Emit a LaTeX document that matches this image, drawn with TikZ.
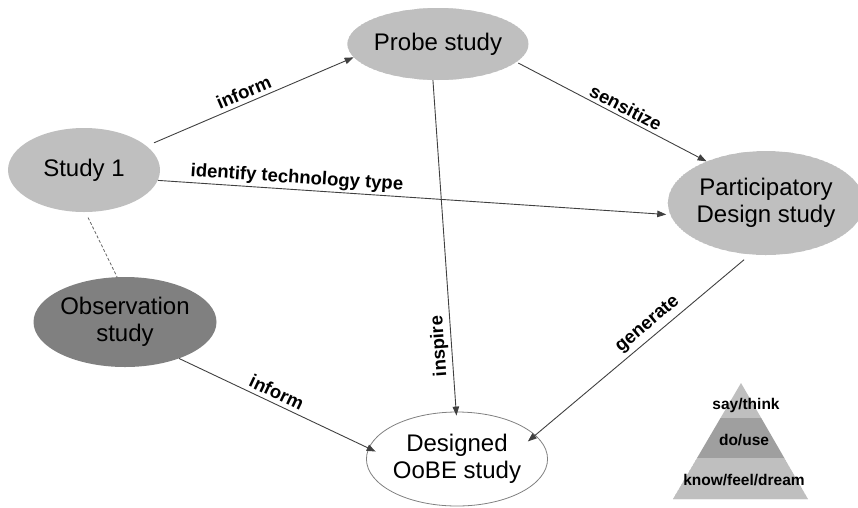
\documentclass[tikz,border=0pt]{standalone}
\usepackage{fontspec}
\setmainfont{Liberation Sans}
\usepackage{tikz}
\usetikzlibrary{shapes.geometric,arrows.meta,patterns.meta,calc}

\tikzset{
  study/.style={ellipse, inner sep=0pt, align=center, font=\fontsize{24}{27}\selectfont},
  dither/.style={fill=gray!35, postaction={pattern={Dots[distance=2pt,radius=0.6pt]}, pattern color=gray}},
  flow/.style={draw=black!75, line width=0.9pt, -{Triangle[length=9pt,width=6.5pt]}},
  lbl/.style={font=\bfseries\fontsize{18.5}{20}\selectfont, sloped, above, inner sep=4pt},
  pyrtext/.style={font=\bfseries\fontsize{15.5}{17}\selectfont, inner sep=0pt},
}

\begin{document}
\begin{tikzpicture}[x=1pt,y=-1pt]
\useasboundingbox (0,0) rectangle (858,507);

% studies
\node[study, fill=gray!50, minimum width=152pt, minimum height=84pt] (study1) at (84,170) {Study 1};
\node[study, fill=gray, minimum width=160pt, minimum height=90pt] (obs) at (125,322) {Observation\\study};
\node[study, dither, minimum width=178pt, minimum height=72pt] (probe) at (438,44) {Probe study};
\node[study, dither, minimum width=184pt, minimum height=104pt] (pd) at (766,203) {Participatory\\Design study};
\node[study, draw=gray, line width=0.8pt, minimum width=170pt, minimum height=94pt] (oobe) at (457,459) {Designed\\OoBE study};

% connectors
\draw[flow, shorten <=8pt] (study1.21) -- node[lbl, pos=0.49] {inform} (probe.189);
\draw[flow, shorten <=2pt] (probe.-13) -- node[lbl, pos=0.55, inner sep=3pt] {sensitize} (pd.145);
\draw[flow, shorten >=4pt] (study1.-8) -- node[lbl, pos=0.27, inner sep=2pt] {identify technology type} (pd.187);
\draw[flow, shorten >=-4pt] (probe.-98) -- node[pos=0.8, rotate=94, anchor=south, inner sep=3pt,
  font=\bfseries\fontsize{18.5}{20}\selectfont] {inspire} (oobe.91);
\draw[flow, shorten <=8pt, shorten >=-10pt] (pd.-107) -- node[lbl, pos=0.44] {generate} (oobe.17);
\draw[flow, shorten >=-8pt] (obs.-34) -- node[lbl, pos=0.49] {inform} (oobe.173);
\draw[draw=black!60, line width=0.8pt, dash pattern=on 3pt off 2pt, shorten <=6pt] (study1.-88) -- (obs.100);

% pyramid
\coordinate (apex) at (741,383);
\coordinate (bl) at (673,499);
\coordinate (br) at (808,499);
\fill[gray!50] (apex) -- ($(apex)!0.302!(bl)$) -- ($(apex)!0.302!(br)$) -- cycle;
\fill[gray!75] ($(apex)!0.302!(bl)$) -- ($(apex)!0.647!(bl)$) -- ($(apex)!0.647!(br)$) -- ($(apex)!0.302!(br)$) -- cycle;
\path[dither] ($(apex)!0.647!(bl)$) -- (bl) -- (br) -- ($(apex)!0.647!(br)$) -- cycle;
\node[pyrtext] (say) at (746,405) {say/think};
\node[pyrtext] (do) at (744,440) {do/use};
\node[pyrtext] (know) at (744,480) {know/feel/dream};
\end{tikzpicture}
\end{document}
